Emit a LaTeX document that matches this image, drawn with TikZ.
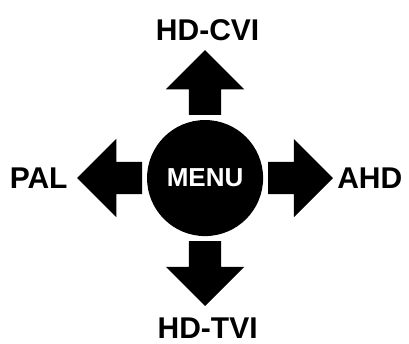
\documentclass[tikz,border=0pt]{standalone}
\usepackage{fontspec}
\setmainfont{Liberation Sans}
\usepackage{tikz}
\usetikzlibrary{shapes, arrows.meta, positioning}

\begin{document}
\begin{tikzpicture}[
    menubtn/.style={
        circle,
        fill=black,
        minimum size=4.08cm,
        inner sep=0pt,
        text=white,
        font=\fontsize{26}{28}\selectfont\bfseries
    },
    blockarrow/.style={
        single arrow,
        fill=black,
        inner sep=0.56cm,
        minimum height=2.28cm,
        single arrow head extend=0.81cm,
        anchor=tail
    },
    label/.style={
        font=\fontsize{30}{32}\selectfont\bfseries,
        inner sep=0pt
    }
]
\useasboundingbox (-7.21, -5.83) rectangle (7.17, 6.26);

% Menu button (centre)
\node[menubtn] (menu) at (0, 0) {MENU};

% Arrows
\node[blockarrow, shape border rotate=90] (up) at (0, 2.21) {};
\node[blockarrow, shape border rotate=270] (down) at (0, -2.21) {};
\node[blockarrow, shape border rotate=180] (left) at (-2.21, 0) {};
\node[blockarrow] (right) at (2.21, 0) {};

% Modes
\node[label] (cvi) at (0.09, 5.21) {HD-CVI};
\node[label] (tvi) at (0.09, -5.27) {HD-TVI};
\node[label] (pal) at (-5.85, 0) {PAL};
\node[label] (ahd) at (5.79, 0) {AHD};

\end{tikzpicture}
\end{document}
